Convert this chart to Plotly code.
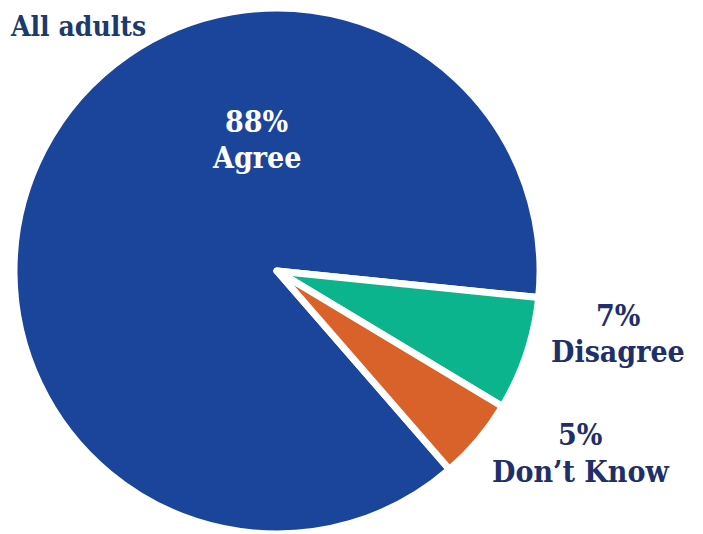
import plotly.graph_objects as go

categories = ["Agree", "Disagree", "Don’t Know"]
values = [88, 7, 5]
colors = ["#1a459b", "#0cb48e", "#d9622a"]
title_text = "All adults"

W, H = 703, 534
OFF = 8  # page body margin offset
cx, cy, r = 277 - OFF, 271 - OFF, 263

fig = go.Figure(go.Pie(
    labels=categories,
    values=values,
    sort=False,
    direction="clockwise",
    rotation=139,
    marker=dict(colors=colors, line=dict(color="white", width=7)),
    textinfo="none",
    hoverinfo="label+percent",
    domain=dict(x=[(cx - r) / W, (cx + r) / W],
                y=[max(0, 1 - (cy + r) / H), min(1, 1 - (cy - r) / H)]),
    showlegend=False,
))

font_family = "DejaVu Serif Condensed, DejaVu Serif, serif"
navy = "#1e2f6a"
# (x center, y of first line, y of second line, colour) in page pixels
label_pos = [(256, 122, 157, "white"), (618, 315, 351, navy), (580, 434, 471, navy)]
annotations = []
for cat, v, (x, y1, y2, col) in zip(categories, values, label_pos):
    for txt, y in ((f"{v}%", y1), (cat, y2)):
        annotations.append(dict(
            x=(x - OFF) / W, y=1 - (y - OFF) / H, xref="paper", yref="paper",
            text=f"<b>{txt}</b>", showarrow=False,
            font=dict(family=font_family, size=30, color=col),
            xanchor="center", yanchor="middle", align="center",
        ))
annotations.append(dict(
    x=0, y=1, xref="paper", yref="paper",
    text=f"<b>{title_text}</b>", showarrow=False,
    font=dict(family=font_family, size=28, color="#1b3a6e"),
    xanchor="left", yanchor="top",
))

fig.update_layout(
    width=W, height=H,
    margin=dict(l=0, r=0, t=0, b=0),
    paper_bgcolor="white", plot_bgcolor="white",
    annotations=annotations,
)
fig.write_html("out.html")
